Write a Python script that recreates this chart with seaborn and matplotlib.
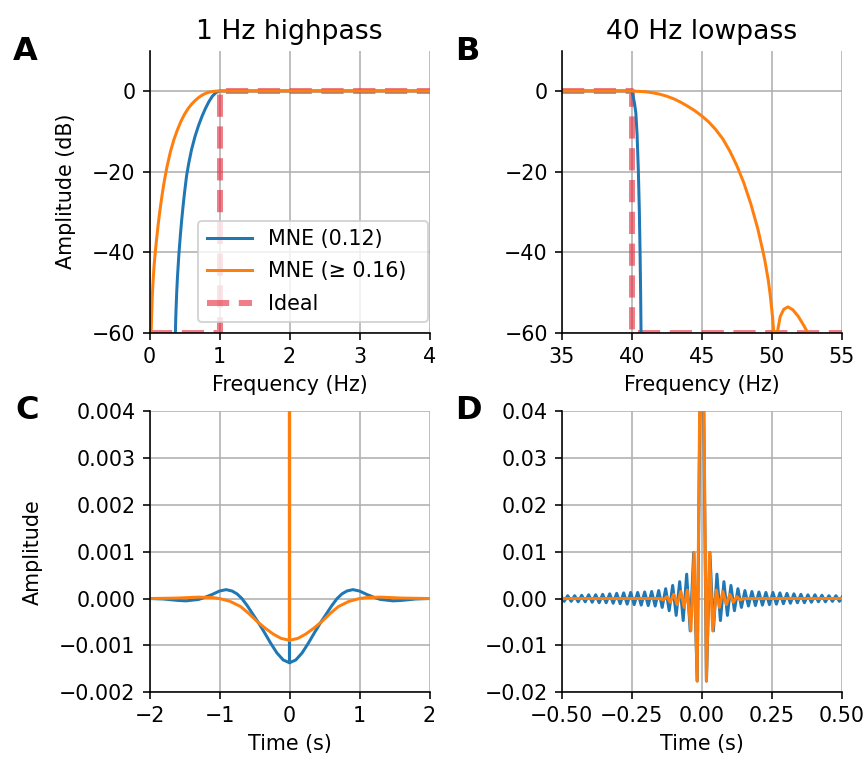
import numpy as np
import pandas as pd
import matplotlib
matplotlib.use("Agg")
import matplotlib.pyplot as plt
import seaborn as sns

# ---------------- data ----------------
# Panel A: 1 Hz highpass, magnitude (dB)
hp_freq_old = [0.37, 0.375, 0.38, 0.39, 0.40, 0.42, 0.44, 0.46, 0.48, 0.50, 0.53, 0.56,
               0.60, 0.65, 0.70, 0.75, 0.80, 0.85, 0.90, 0.95, 1.0, 4.0]
hp_db_old = [-60, -56.5, -53.8, -49.5, -46.0, -40.5, -36.0, -32.0, -28.5, -25.3, -21.0,
             -18.0, -14.6, -11.3, -8.6, -6.3, -4.3, -2.6, -1.25, -0.4, 0, 0]
hp_freq_new = [0.02, 0.024, 0.03, 0.04, 0.05, 0.065, 0.08, 0.10, 0.125, 0.15, 0.18, 0.21,
               0.25, 0.30, 0.35, 0.40, 0.45, 0.50, 0.55, 0.60, 0.65, 0.70, 0.75, 0.80,
               0.85, 0.90, 0.95, 1.0, 4.0]
hp_db_new = [-70, -60, -56, -51, -47.5, -43.5, -40.5, -37, -33, -29.5, -25.8, -22.5,
             -18.8, -15.0, -12.0, -9.6, -7.5, -5.8, -4.4, -3.3, -2.4, -1.65, -1.05, -0.6,
             -0.3, -0.12, -0.03, 0, 0]
hp_freq_ideal = [0, 1, 1, 4]
hp_db_ideal = [-60, -60, 0, 0]

# Panel B: 40 Hz lowpass, magnitude (dB)
lp_freq_old = [35, 40.0, 40.1, 40.2, 40.29, 40.38, 40.47, 40.54, 40.59, 40.63, 40.66, 40.68]
lp_db_old = [0, 0, -1.4, -3.2, -5.5, -11, -20, -30, -40, -50, -60, -75]
lp_freq_new = [35, 40.0, 41.0, 41.5, 42.0, 42.5, 43.0, 43.5, 44.0, 44.5, 45.0, 45.5, 46.0,
               46.5, 47.0, 47.5, 48.0, 48.5, 49.0, 49.38, 49.5, 49.75, 49.9, 50.05, 50.14,
               50.25, 50.39, 50.6, 50.85, 51.15, 51.5, 51.9, 52.3, 52.57, 52.9]
lp_db_new = [0, 0, -0.2, -0.45, -0.8, -1.3, -1.95, -2.8, -3.8, -4.9, -6.2, -7.7, -9.6,
             -11.9, -14.9, -18.5, -22.8, -28.0, -34.2, -40.0, -42.0, -47.0, -51.0, -56.0,
             -60.0, -90, -60, -56, -54.2, -53.6, -54.3, -56, -58.3, -60, -80]
lp_freq_ideal = [35, 40, 40, 55]
lp_db_ideal = [0, 0, -60, -60]

# Panel C: highpass impulse responses
hp_t_old = [-2.0, -1.8, -1.6, -1.48, -1.3, -1.2, -1.1, -1.0, -0.905, -0.82, -0.75, -0.68, -0.6,
            -0.53, -0.45, -0.36, -0.27, -0.18, -0.09, -0.001, 0.0, 0.001, 0.09, 0.18, 0.27,
            0.36, 0.45, 0.53, 0.6, 0.68, 0.75, 0.82, 0.905, 1.0, 1.1, 1.2, 1.3, 1.48, 1.6,
            1.8, 2.0]
hp_h_old = [0.0, -0.00001, -0.00004, -0.00005, -0.00002, 0.00003, 0.00009, 0.00016, 0.00019,
            0.00016, 0.00010, 0.0, -0.00016, -0.00032, -0.00050, -0.00072, -0.00095,
            -0.00116, -0.00131, -0.00137, 0.999, -0.00137, -0.00131, -0.00116, -0.00095,
            -0.00072, -0.00050, -0.00032, -0.00016, 0.0, 0.00010, 0.00016, 0.00019,
            0.00016, 0.00009, 0.00003, -0.00002, -0.00005, -0.00004, -0.00001, 0.0]
hp_t_new = [-2.0, -1.6, -1.3, -1.1, -1.0, -0.85, -0.7, -0.58, -0.47, -0.35, -0.23, -0.12,
            -0.001, 0.0, 0.001, 0.12, 0.23, 0.35, 0.47, 0.58, 0.7, 0.85, 1.0, 1.1, 1.3,
            1.6, 2.0]
hp_h_new = [0.0, 0.00001, 0.00003, 0.00002, 0.0, -0.00006, -0.00017, -0.00032, -0.00048,
            -0.00063, -0.00076, -0.00085, -0.00089, 0.999, -0.00089, -0.00085, -0.00076,
            -0.00063, -0.00048, -0.00032, -0.00017, -0.00006, 0.0, 0.00002, 0.00003,
            0.00001, 0.0]

# Panel D: lowpass impulse responses (extrema of the oscillations)
lp_t_old = [-0.504, -0.4915, -0.479, -0.4665, -0.454, -0.4415, -0.429, -0.4165, -0.404,
            -0.3915, -0.379, -0.3665, -0.354, -0.3415, -0.329, -0.3165, -0.304, -0.2915,
            -0.279, -0.2665, -0.254, -0.2415, -0.229, -0.2165, -0.204, -0.1915, -0.179,
            -0.1665, -0.154, -0.1415, -0.129, -0.1165, -0.104, -0.0915, -0.079, -0.0665,
            -0.054, -0.0415, -0.029, -0.0165, 0.0,
            0.0165, 0.029, 0.0415, 0.054, 0.0665, 0.079, 0.0915, 0.104, 0.1165, 0.129,
            0.1415, 0.154, 0.1665, 0.179, 0.1915, 0.204, 0.2165, 0.229, 0.2415, 0.254,
            0.2665, 0.279, 0.2915, 0.304, 0.3165, 0.329, 0.3415, 0.354, 0.3665, 0.379,
            0.3915, 0.404, 0.4165, 0.429, 0.4415, 0.454, 0.4665, 0.479, 0.4915, 0.504]
lp_h_old = [0.0006, -0.0006, 0.0006, -0.0006, 0.0006, -0.0007, 0.0007, -0.0007, 0.0008,
            -0.0008, 0.0008, -0.0009, 0.0009, -0.0009, 0.0010, -0.0010, 0.0011, -0.0011,
            0.0012, -0.0012, 0.0013, -0.0013, 0.0013, -0.0014, 0.0014, -0.0015, 0.0015,
            -0.0016, 0.0017, -0.0019, 0.0021, -0.0026, 0.0028, -0.0036, 0.0036, -0.0047,
            0.0052, -0.0069, 0.0098, -0.0176, 0.0805,
            -0.0176, 0.0098, -0.0069, 0.0052, -0.0047, 0.0036, -0.0036, 0.0028, -0.0026,
            0.0021, -0.0019, 0.0017, -0.0016, 0.0015, -0.0015, 0.0014, -0.0014, 0.0013,
            -0.0013, 0.0013, -0.0012, 0.0012, -0.0011, 0.0011, -0.0010, 0.0010, -0.0009,
            0.0009, -0.0009, 0.0008, -0.0008, 0.0008, -0.0007, 0.0007, -0.0007, 0.0006,
            -0.0006, 0.0006, -0.0006, 0.0006]
lp_t_new = [-0.504, -0.15, -0.138, -0.125, -0.113, -0.100, -0.088, -0.075, -0.063, -0.052,
            -0.039, -0.0273, -0.0166, 0.0, 0.0166, 0.0273, 0.039, 0.052, 0.063, 0.075,
            0.088, 0.100, 0.113, 0.125, 0.138, 0.15, 0.504]
lp_h_new = [0.0, 0.0, -0.0003, 0.0004, -0.0008, 0.0009, -0.0013, 0.0015, -0.0019, 0.0018,
            -0.0069, 0.0098, -0.0176, 0.09, -0.0176, 0.0098, -0.0069, 0.0018, -0.0019,
            0.0015, -0.0013, 0.0009, -0.0008, 0.0004, -0.0003, 0.0, 0.0]

labels = ["MNE (0.12)", "MNE (\u2265 0.16)", "Ideal"]
titles = ["1 Hz highpass", "40 Hz lowpass"]

# ---------------- style ----------------
plt.rcParams.update({
    "font.family": ["DejaVu Sans"],
    "font.size": 10.3,
    "axes.titlesize": 13.3,
    "axes.labelsize": 10.3,
    "xtick.labelsize": 10.3,
    "ytick.labelsize": 10.3,
    "legend.fontsize": 10.3,
    "grid.color": "#b0b0b0",
    "grid.linewidth": 0.8,
})
C_OLD = "#1f77b4"
C_NEW = "#ff7f0e"
C_IDEAL = "#e6283a"

W, H = 867, 761
fig = plt.figure(figsize=(W / 144, H / 144), dpi=144)


def box(left, top, w, h):
    return [left / W, 1 - (top + h) / H, w / W, h / H]


axA = fig.add_axes(box(149.5, 50.7, 280, 282))
axB = fig.add_axes(box(561.8, 50.7, 280, 282))
axC = fig.add_axes(box(149.5, 411, 280, 281.3))
axD = fig.add_axes(box(561.8, 411, 280, 281.3))


def line(ax, x, y, **kw):
    sns.lineplot(x=x, y=y, ax=ax, estimator=None, sort=False, **kw)


# Panel A
line(axA, hp_freq_ideal, hp_db_ideal, color=C_IDEAL, alpha=0.6, lw=3, linestyle="--",
     label=labels[2])
line(axA, hp_freq_old, hp_db_old, color=C_OLD, lw=1.5, label=labels[0])
line(axA, hp_freq_new, hp_db_new, color=C_NEW, lw=1.5, label=labels[1] + "  ")
axA.set(xlim=(0, 4), ylim=(-60, 10), xticks=[0, 1, 2, 3, 4], yticks=[-60, -40, -20, 0])
axA.set_xlabel("Frequency (Hz)")
axA.set_ylabel("Amplitude (dB)", labelpad=8)
axA.set_title(titles[0])
h, l = axA.get_legend_handles_labels()
order = [l.index(labels[0]), l.index(labels[1] + "  "), l.index(labels[2])]
axA.legend([h[i] for i in order], [l[i] for i in order], loc="lower right",
           bbox_to_anchor=(0.9946, 0.038), borderaxespad=0, handlelength=2.2,
           labelspacing=0.6)

# Panel B
line(axB, lp_freq_ideal, lp_db_ideal, color=C_IDEAL, alpha=0.6, lw=3, linestyle="--")
line(axB, lp_freq_old, lp_db_old, color=C_OLD, lw=1.5)
line(axB, lp_freq_new, lp_db_new, color=C_NEW, lw=1.5)
axB.set(xlim=(35, 55), ylim=(-60, 10), xticks=[35, 40, 45, 50, 55], yticks=[-60, -40, -20, 0])
axB.set_xlabel("Frequency (Hz)")
axB.set_ylabel("")
axB.set_title(titles[1])

# Panel C
line(axC, hp_t_old, hp_h_old, color=C_OLD, lw=1.5)
line(axC, hp_t_new, hp_h_new, color=C_NEW, lw=1.5)
axC.set(xlim=(-2, 2), ylim=(-0.002, 0.004), xticks=[-2, -1, 0, 1, 2],
        yticks=[-0.002, -0.001, 0, 0.001, 0.002, 0.003, 0.004])
axC.set_xlabel("Time (s)")
axC.set_ylabel("Amplitude", labelpad=8)

# Panel D
line(axD, lp_t_old, lp_h_old, color=C_OLD, lw=1.5)
line(axD, lp_t_new, lp_h_new, color=C_NEW, lw=1.5)
axD.set(xlim=(-0.5, 0.5), ylim=(-0.02, 0.04), xticks=[-0.5, -0.25, 0, 0.25, 0.5],
        yticks=[-0.02, -0.01, 0, 0.01, 0.02, 0.03, 0.04])
axD.set_xlabel("Time (s)")
axD.set_ylabel("")

for ax in (axA, axB, axC, axD):
    ax.grid(True)
    ax.set_axisbelow(True)
    sns.despine(ax=ax)

for letter, x, y in (("A", 13, 60), ("B", 455, 60), ("C", 15, 419), ("D", 455, 419)):
    fig.text(x / W, 1 - y / H, letter, fontsize=16, fontweight="bold",
             ha="left", va="baseline")

fig.savefig("out.png", dpi=144)
